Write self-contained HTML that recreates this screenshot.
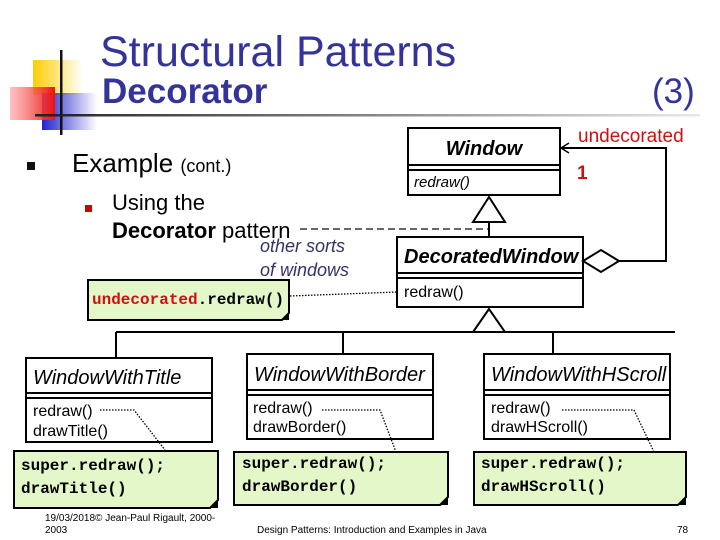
<!DOCTYPE html>
<html><head><meta charset="utf-8"><style>
body{margin:0;background:#fff}
svg{display:block}
text{font-family:"Liberation Sans",sans-serif}
.m{font-family:"Liberation Mono",monospace;font-weight:bold;font-size:16px}
</style></head><body>
<svg width="720" height="540" viewBox="0 0 720 540" xmlns="http://www.w3.org/2000/svg">
<defs>
<linearGradient id="gy" x1="0" x2="1"><stop offset="0" stop-color="#ffcc00"/><stop offset="1" stop-color="#ffcc00" stop-opacity="0"/></linearGradient>
<linearGradient id="gr" x1="0" x2="1"><stop offset="0" stop-color="#ff9999" stop-opacity="0.6"/><stop offset="1" stop-color="#ee1111"/></linearGradient>
<linearGradient id="gb" x1="0" x2="1"><stop offset="0" stop-color="#2222cc"/><stop offset="1" stop-color="#2222cc" stop-opacity="0"/></linearGradient>
<linearGradient id="gl" x1="0" x2="1"><stop offset="0" stop-color="#222"/><stop offset="1" stop-color="#222" stop-opacity="0.1"/></linearGradient>
</defs>
<rect x="33" y="60" width="50" height="35" fill="url(#gy)"/>
<rect x="42" y="93" width="55" height="37" fill="url(#gb)"/>
<rect x="10" y="87" width="45" height="33" fill="url(#gr)"/>
<rect x="60" y="50" width="2.5" height="85" fill="#111"/>
<rect x="35" y="114" width="665" height="2.5" fill="url(#gl)"/>
<text x="100" y="66" font-size="43" fill="#333399">Structural Patterns</text>
<text x="102" y="103" font-size="35" font-weight="bold" fill="#333399">Decorator</text>
<text x="652" y="103" font-size="35" fill="#333399">(3)</text>

<rect x="27" y="162" width="8" height="8" fill="#111"/>
<text x="72" y="172" font-size="26">Example <tspan font-size="18">(cont.)</tspan></text>
<rect x="85" y="205" width="7" height="7" fill="#cc0000"/>
<text x="112" y="210" font-size="22">Using the</text>
<text x="112" y="238" font-size="22"><tspan font-weight="bold">Decorator</tspan> pattern</text>
<text x="260" y="252" font-size="18" font-style="italic" fill="#333366">other sorts</text>
<text x="260" y="276" font-size="18" font-style="italic" fill="#333366">of windows</text>
<line x1="300" y1="229" x2="489" y2="229" stroke="#334" stroke-width="1.5" stroke-dasharray="7,4"/>

<g fill="none" stroke="#000" stroke-width="2">
<rect x="408" y="128" width="152" height="67" fill="#fff"/>
<line x1="408" y1="165" x2="560" y2="165"/><line x1="408" y1="170" x2="560" y2="170"/>
<polygon points="489,197 473,222 505,222" fill="#fff"/>
<line x1="489" y1="222" x2="489" y2="237"/>
<rect x="397" y="237" width="186" height="70" fill="#fff"/>
<line x1="397" y1="273" x2="583" y2="273"/><line x1="397" y1="278" x2="583" y2="278"/>
<polygon points="583,261 601,250 619,261 601,272" fill="#fff"/>
<polyline points="619,261 666,261 666,148 561,148"/>
<polyline points="569,143 561,148 569,153" stroke-width="1.5"/>
<polygon points="489,309 473,332 505,332" fill="#fff"/>
<line x1="116" y1="332" x2="675" y2="332"/>
<line x1="116" y1="332" x2="116" y2="358"/>
<line x1="343" y1="332" x2="343" y2="354"/>
<line x1="553" y1="332" x2="553" y2="354"/>
<rect x="26" y="358" width="186" height="84" fill="#fff"/>
<line x1="26" y1="393" x2="212" y2="393"/><line x1="26" y1="398" x2="212" y2="398"/>
<rect x="247" y="354" width="186" height="85" fill="#fff"/>
<line x1="247" y1="390" x2="433" y2="390"/><line x1="247" y1="395" x2="433" y2="395"/>
<rect x="484" y="354" width="186" height="85" fill="#fff"/>
<line x1="484" y1="390" x2="670" y2="390"/><line x1="484" y1="395" x2="670" y2="395"/>
</g>
<text x="484" y="155" font-size="20" font-style="italic" font-weight="bold" text-anchor="middle">Window</text>
<text x="414" y="187" font-size="15" font-style="italic">redraw()</text>
<text x="404" y="263" font-size="20" font-style="italic" font-weight="bold">DecoratedWindow</text>
<text x="404" y="297" font-size="16">redraw()</text>
<text x="578" y="142" font-size="19" fill="#cc1111">undecorated</text>
<text x="577" y="179" font-size="19" font-weight="bold" fill="#cc1111">1</text>

<text x="33" y="384" font-size="20" font-style="italic">WindowWithTitle</text>
<text x="33" y="416" font-size="16">redraw()</text><text x="33" y="436" font-size="16">drawTitle()</text>
<text x="254" y="381" font-size="20" font-style="italic">WindowWithBorder</text>
<text x="253" y="413" font-size="16">redraw()</text><text x="253" y="432" font-size="16">drawBorder()</text>
<text x="491" y="381" font-size="20" font-style="italic">WindowWithHScroll</text>
<text x="491" y="413" font-size="16">redraw()</text><text x="491" y="432" font-size="16">drawHScroll()</text>

<g stroke="#000" stroke-width="2" fill="#e4f7c9">
<polygon points="88,280 289,280 289,313 282,320 88,320"/>
<polygon points="14,451 218,451 218,500 210,508 14,508"/>
<polygon points="234,452 448,452 448,497 440,505 234,505"/>
<polygon points="474,452 686,452 686,497 678,505 474,505"/>
</g>
<g fill="#000"><polygon points="289,313 282,320 289,320"/><polygon points="218,500 210,508 218,508"/><polygon points="448,497 440,505 448,505"/><polygon points="686,497 678,505 686,505"/></g>
<g fill="none" stroke="#000" stroke-width="1.3" stroke-dasharray="1.5,1.5">
<polyline points="290,296 397,292"/>
<polyline points="100,410 134,410 165,450"/>
<polyline points="322,410 380,410 396,452"/>
<polyline points="562,410 634,410 654,452"/>
</g>
<text class="m" x="92" y="304"><tspan fill="#cc1111">undecorated</tspan>.redraw()</text>
<text class="m" x="21" y="470">super.redraw();</text><text class="m" x="21" y="493">drawTitle()</text>
<text class="m" x="242" y="468">super.redraw();</text><text class="m" x="242" y="491">drawBorder()</text>
<text class="m" x="481" y="468">super.redraw();</text><text class="m" x="481" y="491">drawHScroll()</text>

<text x="45" y="521" font-size="10">19/03/2018© Jean-Paul Rigault, 2000-</text>
<text x="45" y="533" font-size="10">2003</text>
<text x="257" y="533" font-size="10">Design Patterns: Introduction and Examples in Java</text>
<text x="677" y="533" font-size="10">78</text>
</svg>
</body></html>
